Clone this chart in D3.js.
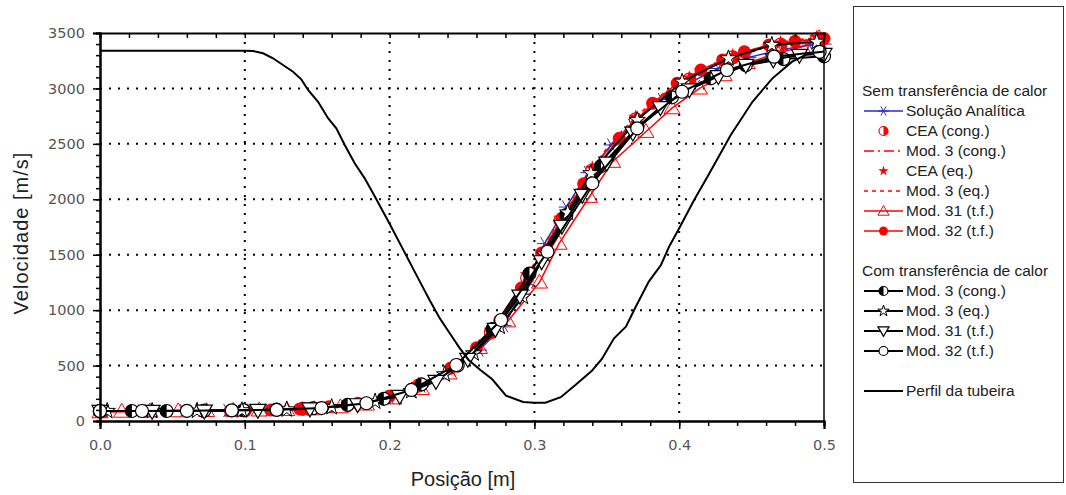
<!DOCTYPE html>
<html lang="pt">
<head>
<meta charset="UTF-8">
<title>Velocidade ao longo da tubeira</title>
<script src="https://d3js.org/d3.v7.min.js"></script>
<style>
  body { margin: 0; background: #fff; }
  svg { display: block; font-family: "Liberation Sans", Arial, sans-serif; }
  .tick text { font-family: "DejaVu Sans", Verdana, sans-serif; font-size: 14.5px; fill: #555; }
</style>
</head>
<body>
<div id="grafico"></div>
<script>
// ---- dados ----
const xTicks = [0, 0.1, 0.2, 0.3, 0.4, 0.5];
const yTicks = [0, 500, 1000, 1500, 2000, 2500, 3000, 3500];

// Perfil da tubeira (escala do eixo de velocidade)
const xPerfil = [0, 0.1, 0.1057, 0.1126, 0.1195, 0.1264, 0.1333, 0.139, 0.1437, 0.1506, 0.1575, 0.1632, 0.169, 0.1759, 0.1828, 0.19, 0.2, 0.21, 0.22, 0.2276, 0.2345, 0.2414, 0.2483, 0.2544, 0.2627, 0.2709, 0.2804, 0.2922, 0.3, 0.3076, 0.3182, 0.3277, 0.3395, 0.3466, 0.355, 0.3632, 0.37, 0.379, 0.3874, 0.393, 0.4, 0.4103, 0.42, 0.4356, 0.4506, 0.4644, 0.478, 0.4897, 0.4988, 0.5];
const vPerfil = [3340, 3340, 3338, 3317, 3272, 3211, 3151, 3082, 2986, 2880, 2731, 2640, 2490, 2325, 2189, 2020, 1780, 1530, 1280, 1091, 930, 794, 660, 553, 460, 376, 229, 171, 165, 165, 215, 318, 450, 560, 746, 851, 1031, 1257, 1407, 1572, 1738, 1993, 2215, 2580, 2880, 3091, 3241, 3317, 3331, 3335];

// Sem transferência de calor
const xAnalitica = [0, 0.029, 0.058, 0.088, 0.117, 0.146, 0.175, 0.2, 0.222, 0.243, 0.262, 0.279, 0.294, 0.307, 0.322, 0.337, 0.353, 0.37, 0.388, 0.407, 0.427, 0.448, 0.47, 0.49, 0.5];
const vAnalitica = [88, 90, 92, 95, 99, 107, 140, 215, 315, 460, 640, 860, 1230, 1600, 1930, 2240, 2490, 2720, 2900, 3050, 3180, 3280, 3350, 3390, 3400];

const xCeaCong = [0, 0.1, 0.14, 0.22, 0.27, 0.295, 0.318, 0.34, 0.37, 0.407, 0.437, 0.47, 0.495];
const vCeaCong = [85, 95, 110, 320, 800, 1290, 1806, 2260, 2720, 3080, 3280, 3395, 3445];

const xMod3CongSem = [0, 0.05, 0.1, 0.12, 0.14, 0.16, 0.18, 0.2, 0.22, 0.24, 0.25, 0.26, 0.27, 0.28, 0.29, 0.3, 0.31, 0.32, 0.33, 0.34, 0.35, 0.36, 0.37, 0.38, 0.39, 0.4, 0.42, 0.44, 0.46, 0.48, 0.5];
const vMod3CongSem = [85, 88, 95, 100, 110, 130, 165, 225, 320, 460, 545, 660, 800, 980, 1180, 1400, 1630, 1850, 2060, 2260, 2440, 2590, 2720, 2840, 2950, 3040, 3180, 3290, 3370, 3420, 3450];

const xCeaEq = [0, 0.1, 0.14, 0.22, 0.27, 0.295, 0.318, 0.34, 0.37, 0.407, 0.437, 0.47, 0.495];
const vCeaEq = [85, 96, 112, 330, 820, 1320, 1830, 2280, 2740, 3095, 3295, 3410, 3460];

const xMod3EqSem = [0, 0.05, 0.1, 0.12, 0.14, 0.16, 0.18, 0.2, 0.22, 0.24, 0.25, 0.26, 0.27, 0.28, 0.29, 0.3, 0.31, 0.32, 0.33, 0.34, 0.35, 0.36, 0.37, 0.38, 0.39, 0.4, 0.42, 0.44, 0.46, 0.48, 0.5];
const vMod3EqSem = [85, 88, 95, 101, 112, 133, 170, 232, 330, 475, 560, 680, 825, 1005, 1210, 1425, 1655, 1875, 2085, 2280, 2460, 2610, 2740, 2860, 2965, 3055, 3195, 3305, 3385, 3435, 3462];

const xMod31Sem = [0, 0.015, 0.0345, 0.054, 0.0736, 0.092, 0.11, 0.129, 0.148, 0.166, 0.184, 0.203, 0.222, 0.241, 0.262, 0.2816, 0.3035, 0.317, 0.338, 0.354, 0.377, 0.395, 0.414, 0.431, 0.447, 0.468, 0.485, 0.4966];
const vMod31Sem = [80, 85, 88, 89, 91, 93, 96, 100, 108, 125, 150, 205, 290, 430, 660, 900, 1250, 1600, 2023, 2339, 2609, 2822, 3000, 3120, 3230, 3320, 3375, 3455];

const xMod32Sem = [0.002, 0.03, 0.06, 0.09, 0.118, 0.138, 0.158, 0.178, 0.2, 0.222, 0.242, 0.26, 0.276, 0.291, 0.305, 0.319, 0.334, 0.3586, 0.3816, 0.3986, 0.415, 0.43, 0.445, 0.462, 0.48, 0.5];
const vMod32Sem = [85, 87, 89, 93, 99, 109, 128, 160, 225, 330, 475, 660, 905, 1200, 1515, 1830, 2140, 2550, 2866, 3046, 3166, 3257, 3331, 3392, 3425, 3450];

// Com transferência de calor
const xMod3CongCom = [0, 0.022, 0.046, 0.072, 0.099, 0.122, 0.147, 0.171, 0.196, 0.222, 0.247, 0.271, 0.2966, 0.322, 0.346, 0.371, 0.395, 0.4218, 0.446, 0.472, 0.5];
const vMod3CongCom = [90, 90, 90, 93, 97, 102, 115, 145, 200, 330, 500, 830, 1330, 1858, 2300, 2650, 2920, 3091, 3210, 3265, 3290];

const xMod3EqCom = [0.005, 0.036, 0.067, 0.098, 0.129, 0.16, 0.19, 0.215, 0.238, 0.258, 0.276, 0.292, 0.307, 0.323, 0.339, 0.371, 0.402, 0.434, 0.464, 0.495];
const vMod3EqCom = [90, 90, 92, 96, 104, 125, 175, 270, 420, 610, 850, 1120, 1500, 1880, 2234, 2715, 3060, 3271, 3392, 3420];

const xMod31Com = [0, 0.036, 0.072, 0.109, 0.145, 0.178, 0.207, 0.232, 0.254, 0.273, 0.29, 0.305, 0.319, 0.333, 0.35, 0.368, 0.387, 0.407, 0.427, 0.446, 0.465, 0.483, 0.5];
const vMod31Com = [90, 90, 93, 99, 112, 150, 225, 360, 560, 830, 1130, 1440, 1760, 2039, 2330, 2600, 2830, 2990, 3110, 3211, 3260, 3302, 3310];

const xMod32Com = [0, 0.029, 0.06, 0.091, 0.122, 0.153, 0.184, 0.215, 0.246, 0.277, 0.309, 0.34, 0.371, 0.402, 0.433, 0.4655, 0.497];
const vMod32Com = [90, 90, 92, 96, 101, 117, 160, 280, 505, 911, 1527, 2144, 2640, 2970, 3166, 3286, 3330];

// ---- configuração ----
const width = 1066, height = 495;
const plotL = 100, plotR = 824, plotT = 33, plotB = 421;
const blue = "#2a2ad0", red = "#ff0000";
const raio = 6.5;

const x = d3.scaleLinear().domain([0, 0.5]).range([plotL, plotR]);
const y = d3.scaleLinear().domain([0, 3500]).range([plotB, plotT]);

const svg = d3.select("#grafico").append("svg")
    .attr("width", width)
    .attr("height", height);

// grade pontilhada
svg.append("g").selectAll("line")
    .data(xTicks.slice(1, -1))
    .enter().append("line")
    .attr("x1", d => x(d)).attr("x2", d => x(d))
    .attr("y1", y(3500)).attr("y2", y(0))
    .attr("stroke", "#000").attr("stroke-width", 2).attr("stroke-dasharray", "2 7");
svg.append("g").selectAll("line")
    .data(yTicks.slice(1, -1))
    .enter().append("line")
    .attr("x1", x(0)).attr("x2", x(0.5))
    .attr("y1", d => y(d)).attr("y2", d => y(d))
    .attr("stroke", "#000").attr("stroke-width", 2).attr("stroke-dasharray", "2 7");

// desenho dos marcadores
function desenhaMarcador(g, tipo, r, cor) {
    const s = r / 6;
    if (tipo === "ast") {
        g.append("path").attr("d", d3.symbol(d3.symbolAsterisk, 139 * s * s)())
            .attr("transform", "rotate(90)")
            .attr("fill", "none").attr("stroke", cor).attr("stroke-width", 1);
    } else if (tipo === "meioDir" || tipo === "meioEsq") {
        g.append("circle").attr("r", r).attr("fill", "#fff").attr("stroke", cor).attr("stroke-width", 1.2);
        const a0 = tipo === "meioDir" ? 0 : Math.PI;
        g.append("path")
            .attr("d", d3.arc().innerRadius(0).outerRadius(r).startAngle(a0).endAngle(a0 + Math.PI)())
            .attr("fill", cor);
    } else if (tipo === "estrelaCheia") {
        g.append("path").attr("d", d3.symbol(d3.symbolStar, 60 * s * s)()).attr("fill", cor);
    } else if (tipo === "estrela") {
        g.append("path").attr("d", d3.symbol(d3.symbolStar, 70 * s * s)())
            .attr("fill", "#fff").attr("stroke", cor).attr("stroke-width", 1);
    } else if (tipo === "triCima") {
        g.append("path").attr("d", d3.symbol(d3.symbolTriangle, 95 * s * s)())
            .attr("transform", "translate(0,1)")
            .attr("fill", "none").attr("stroke", cor).attr("stroke-width", 1);
    } else if (tipo === "triBaixo") {
        g.append("path").attr("d", d3.symbol(d3.symbolTriangle, 95 * s * s)())
            .attr("transform", "translate(0,-1) rotate(180)")
            .attr("fill", "#fff").attr("stroke", cor).attr("stroke-width", 1.2);
    } else if (tipo === "bola") {
        g.append("circle").attr("r", r).attr("fill", cor);
    } else if (tipo === "circulo") {
        g.append("circle").attr("r", r).attr("fill", "#fff").attr("stroke", cor).attr("stroke-width", 1.2);
    }
}

const series = [
    { nome: "Solução Analítica", xs: xAnalitica, vs: vAnalitica, cor: blue, linha: 1.5, dash: null, marc: "ast" },
    { nome: "CEA (cong.)", xs: xCeaCong, vs: vCeaCong, cor: red, linha: 0, marc: "meioDir" },
    { nome: "Mod. 3 (cong.)", xs: xMod3CongSem, vs: vMod3CongSem, cor: red, linha: 1.5, dash: "10 4 2 4", marc: null },
    { nome: "CEA (eq.)", xs: xCeaEq, vs: vCeaEq, cor: red, linha: 0, marc: "estrelaCheia" },
    { nome: "Mod. 3 (eq.)", xs: xMod3EqSem, vs: vMod3EqSem, cor: red, linha: 1.5, dash: "4 4", marc: null },
    { nome: "Mod. 31 (t.f.)", xs: xMod31Sem, vs: vMod31Sem, cor: red, linha: 1.5, dash: null, marc: "triCima" },
    { nome: "Mod. 32 (t.f.)", xs: xMod32Sem, vs: vMod32Sem, cor: red, linha: 1.5, dash: null, marc: "bola" },
    { nome: "Mod. 3 (cong.)", xs: xMod3CongCom, vs: vMod3CongCom, cor: "#000", linha: 2, dash: null, marc: "meioEsq" },
    { nome: "Mod. 3 (eq.)", xs: xMod3EqCom, vs: vMod3EqCom, cor: "#000", linha: 2, dash: null, marc: "estrela" },
    { nome: "Mod. 31 (t.f.)", xs: xMod31Com, vs: vMod31Com, cor: "#000", linha: 2, dash: null, marc: "triBaixo" },
    { nome: "Mod. 32 (t.f.)", xs: xMod32Com, vs: vMod32Com, cor: "#000", linha: 2, dash: null, marc: "circulo" },
    { nome: "Perfil da tubeira", xs: xPerfil, vs: vPerfil, cor: "#000", linha: 2, dash: null, marc: null }
];

const linha = d3.line().x(d => x(d[0])).y(d => y(d[1]));
const plot = svg.append("g");

series.forEach(s => {
    const pts = s.xs.map((v, i) => [v, s.vs[i]]);
    if (s.linha > 0) {
        plot.append("path").datum(pts)
            .attr("d", linha)
            .attr("fill", "none")
            .attr("stroke", s.cor)
            .attr("stroke-width", s.linha)
            .attr("stroke-dasharray", s.dash);
    }
    if (s.marc) {
        plot.append("g").selectAll("g")
            .data(pts)
            .enter().append("g")
            .attr("transform", d => `translate(${x(d[0])},${y(d[1])})`)
            .each(function() { desenhaMarcador(d3.select(this), s.marc, raio, s.cor); });
    }
});

// eixos
svg.append("g").attr("transform", `translate(${plotL},0)`)
    .call(d3.axisLeft(y).tickValues(yTicks).tickSize(7).tickPadding(8).tickFormat(d3.format("d")));
svg.append("g").attr("transform", `translate(${plotL},0)`)
    .call(d3.axisLeft(y).tickValues(d3.range(0, 3501, 100)).tickSize(4).tickFormat(""));
const eixoX = svg.append("g").attr("transform", `translate(0,${plotB})`)
    .call(d3.axisBottom(x).tickValues(xTicks).tickSize(8).tickFormat(d3.format(".1f")));
eixoX.selectAll("text").attr("y", 29).attr("dy", 0);
svg.append("g").attr("transform", `translate(0,${plotB})`)
    .call(d3.axisBottom(x).tickValues(d3.range(0, 0.5001, 0.02)).tickSize(5).tickFormat(""));
svg.append("g").attr("transform", `translate(0,${plotT})`)
    .call(d3.axisTop(x).tickValues(d3.range(0, 0.5001, 0.02)).tickSize(-5).tickFormat(""));
svg.selectAll(".domain").attr("stroke", "#000").attr("stroke-width", 2);
svg.selectAll(".tick line").attr("stroke", "#000").attr("stroke-width", 1.5);
svg.append("line")
    .attr("x1", plotR).attr("x2", plotR).attr("y1", plotT).attr("y2", plotB)
    .attr("stroke", "#000").attr("stroke-width", 1.5);

// títulos dos eixos
svg.append("text")
    .attr("transform", `translate(28,${(plotT + plotB) / 2 + 6}) rotate(-90)`)
    .attr("text-anchor", "middle")
    .style("font-size", "20px").style("letter-spacing", "1px").style("fill", "#222")
    .text("Velocidade [m/s]");
svg.append("text")
    .attr("x", (plotL + plotR) / 2 + 1).attr("y", 486)
    .attr("text-anchor", "middle")
    .style("font-size", "20px").style("fill", "#222")
    .text("Posição [m]");

// legenda
const leg = svg.append("g");
leg.append("rect")
    .attr("x", 853.5).attr("y", 6.5).attr("width", 210).attr("height", 476)
    .attr("fill", "#fff").attr("stroke", "#333").attr("stroke-width", 1);

const linhasLegenda = [
    { titulo: "Sem transferência de calor" },
    series[0], series[1], series[2], series[3], series[4], series[5], series[6],
    null,
    { titulo: "Com transferência de calor" },
    series[7], series[8], series[9], series[10],
    null,
    series[11]
];

linhasLegenda.forEach((item, i) => {
    if (!item) return;
    const cy = 91 + 20 * i;
    if (item.titulo) {
        leg.append("text").attr("x", 862).attr("y", cy).attr("dy", "0.35em")
            .style("font-size", "15.5px").style("fill", "#222").text(item.titulo);
        return;
    }
    if (item.linha > 0) {
        leg.append("line")
            .attr("x1", 864).attr("x2", 903).attr("y1", cy).attr("y2", cy)
            .attr("stroke", item.cor).attr("stroke-width", item.linha)
            .attr("stroke-dasharray", item.dash);
    }
    if (item.marc) {
        const g = leg.append("g").attr("transform", `translate(883.5,${cy})`);
        desenhaMarcador(g, item.marc, 4.5, item.cor);
    }
    leg.append("text").attr("x", 906).attr("y", cy).attr("dy", "0.35em")
        .style("font-size", "15.5px").style("fill", "#222").text(item.nome);
});
</script>
</body>
</html>
